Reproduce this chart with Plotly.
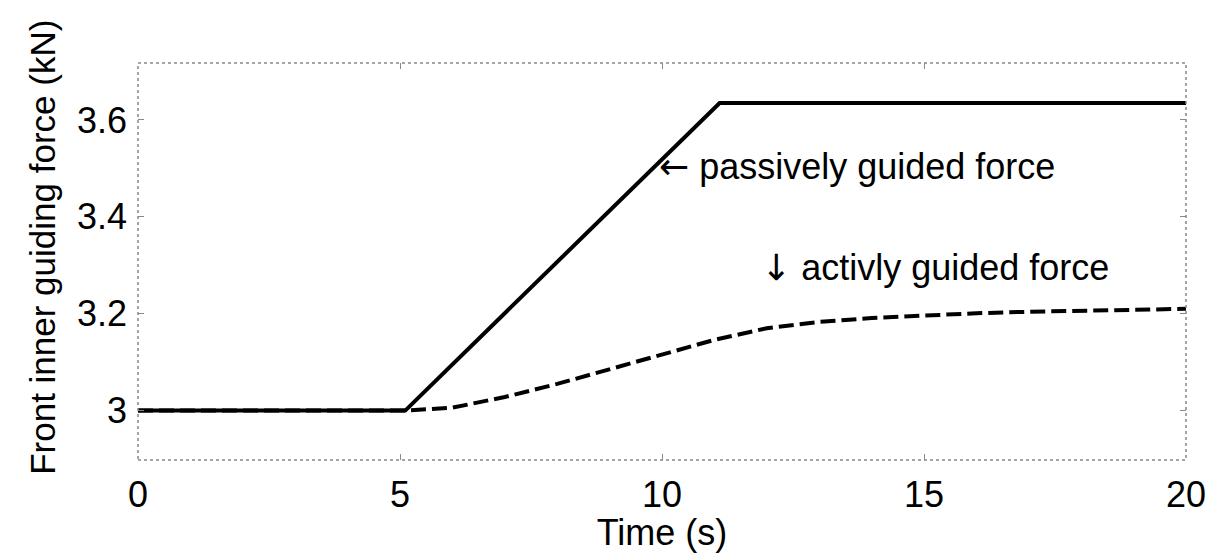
import plotly.graph_objects as go

# Data
t_passive = [0, 5.1, 11.1, 20]
f_passive = [3.0, 3.0, 3.635, 3.635]

t_active = [0, 5.1, 6, 7, 8, 9, 10, 11, 12, 13, 14, 15, 16, 17, 18, 19, 20]
f_active = [3.0, 3.0, 3.006, 3.028, 3.055, 3.085, 3.115, 3.146, 3.170, 3.183, 3.191, 3.197, 3.201, 3.204, 3.206, 3.208, 3.210]

x_ticks = [0, 5, 10, 15, 20]
y_ticks = [3.0, 3.2, 3.4, 3.6]
y_tick_labels = ["3", "3.2", "3.4", "3.6"]

FONT = "Liberation Sans, Arial, sans-serif"
ARROW = "<span style='font-family:DejaVu Sans'>%s</span>"

fig = go.Figure()
fig.add_trace(go.Scatter(x=t_active, y=f_active, mode="lines",
                         line=dict(color="black", width=4, dash="15px,6px"),
                         showlegend=False))
fig.add_trace(go.Scatter(x=t_passive, y=f_passive, mode="lines",
                         line=dict(color="black", width=4),
                         showlegend=False))

fig.add_annotation(x=9.9, y=3.503, xref="x", yref="y",
                   text=(ARROW % "←") + " passively guided force",
                   showarrow=False, xanchor="left", yanchor="middle",
                   font=dict(family=FONT, size=36, color="black"))
fig.add_annotation(x=11.85, y=3.295, xref="x", yref="y",
                   text=(ARROW % "↓") + " activly guided force",
                   showarrow=False, xanchor="left", yanchor="middle",
                   font=dict(family=FONT, size=36, color="black"))

# y-axis title
fig.add_annotation(x=-0.091, y=0.536, xref="paper", yref="paper",
                   text="Front inner guiding force (kN)", textangle=-90,
                   showarrow=False, xanchor="center", yanchor="middle",
                   font=dict(family=FONT, size=35, color="black"))

# dotted border
fig.add_shape(type="rect", xref="paper", yref="paper", x0=0, y0=0, x1=1, y1=1,
              line=dict(color="#888888", width=1.5, dash="dot"), layer="above")

fig.update_layout(
    width=1223, height=553,
    margin=dict(l=138, r=37, t=63, b=93),
    paper_bgcolor="white", plot_bgcolor="white",
    font=dict(family=FONT, size=36, color="black"),
    xaxis=dict(range=[0, 20], tickvals=x_ticks, ticks="inside", ticklen=6,
               tickcolor="#888888", mirror="ticks", showline=False, showgrid=False,
               zeroline=False, ticklabelstandoff=10,
               title=dict(text="Time (s)", standoff=2, font=dict(size=36))),
    yaxis=dict(range=[2.898, 3.7175], tickvals=y_ticks, ticktext=y_tick_labels,
               ticks="inside", ticklen=6, tickcolor="#888888", mirror="ticks",
               showline=False, showgrid=False, zeroline=False, ticklabelstandoff=10),
)

fig.write_html("out.html")
